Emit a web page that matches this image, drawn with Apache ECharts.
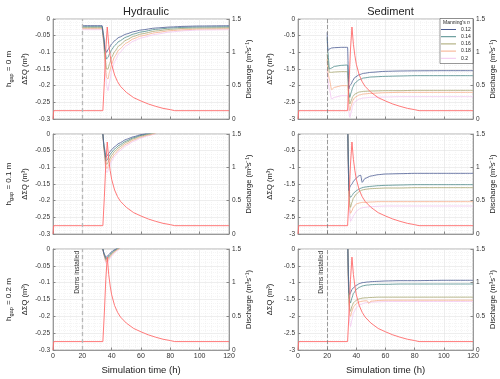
<!DOCTYPE html>
<html>
<head>
<meta charset="utf-8">
<script src="https://cdn.jsdelivr.net/npm/echarts@6/dist/echarts.min.js"></script>
<style>
  html, body { margin: 0; padding: 0; background: #fff; }
  #chart { width: 500px; height: 379px; }
</style>
</head>
<body>
<div id="chart"></div>
<script>
// Manning's n classes and their colours
const manningNames = ['0.12', '0.14', '0.16', '0.18', '0.2'];
const manningColors = ['#4a5a92', '#4d8a8a', '#a6a46e', '#f6ad8a', '#f3c7f0'];

// inflow hydrograph (right axis), same in all panels
const dischargeTime = [0, 0.5, 34, 35, 36, 37, 38, 39, 40, 42, 44, 46, 50, 55, 60, 65, 70, 75, 80, 83, 120];
const dischargeValue = [0, 0.125, 0.125, 0.55, 1.05, 1.38, 1.12, 0.95, 0.82, 0.66, 0.56, 0.49, 0.40, 0.32, 0.27, 0.225, 0.19, 0.16, 0.14, 0.125, 0.125];

// Hydraulic, h_gap = 0 m
const hyd0Time = [20, 33.5, 34.5, 35.5, 36.5, 37.5, 38.5, 40, 42, 45, 50, 55, 60, 70, 80, 90, 100, 120];
const hyd0Values = [
  [-0.020, -0.020, -0.05, -0.09, -0.10, -0.092, -0.085, -0.075, -0.065, -0.055, -0.045, -0.038, -0.033, -0.027, -0.024, -0.022, -0.021, -0.020],
  [-0.023, -0.023, -0.055, -0.10, -0.12, -0.115, -0.105, -0.092, -0.08, -0.067, -0.054, -0.045, -0.039, -0.031, -0.027, -0.025, -0.024, -0.023],
  [-0.026, -0.026, -0.06, -0.115, -0.15, -0.15, -0.135, -0.115, -0.098, -0.08, -0.063, -0.052, -0.045, -0.036, -0.031, -0.028, -0.027, -0.026],
  [-0.029, -0.029, -0.065, -0.13, -0.175, -0.18, -0.16, -0.135, -0.113, -0.092, -0.072, -0.059, -0.051, -0.041, -0.035, -0.032, -0.030, -0.029],
  [-0.032, -0.032, -0.07, -0.145, -0.20, -0.215, -0.19, -0.155, -0.128, -0.103, -0.08, -0.066, -0.057, -0.046, -0.039, -0.035, -0.033, -0.032]
];

// Hydraulic, h_gap = 0.1 m
const hyd1Time = [34, 35, 36, 37, 38, 40, 42, 45, 50, 55, 60, 65, 70];
const hyd1Values = [
  [0, -0.04, -0.07, -0.065, -0.058, -0.047, -0.038, -0.028, -0.016, -0.008, -0.002, 0.003, 0.008],
  [0, -0.045, -0.08, -0.078, -0.068, -0.055, -0.045, -0.034, -0.021, -0.011, -0.004, 0.001, 0.006],
  [0, -0.05, -0.09, -0.09, -0.08, -0.064, -0.052, -0.04, -0.025, -0.014, -0.006, -0.001, 0.004],
  [0, -0.055, -0.10, -0.103, -0.092, -0.073, -0.06, -0.046, -0.03, -0.018, -0.009, -0.003, 0.002],
  [0, -0.06, -0.11, -0.115, -0.103, -0.082, -0.067, -0.052, -0.035, -0.022, -0.012, -0.005, 0.001]
];

// Hydraulic, h_gap = 0.2 m
const hyd2Time = [34, 35, 36, 37, 38, 39, 40, 42, 44, 46];
const hyd2Values = [
  [0, -0.015, -0.025, -0.022, -0.017, -0.012, -0.008, -0.002, 0.003, 0.008],
  [0, -0.017, -0.029, -0.027, -0.021, -0.016, -0.011, -0.004, 0.002, 0.007],
  [0, -0.019, -0.033, -0.031, -0.025, -0.019, -0.014, -0.006, 0.0, 0.005],
  [0, -0.021, -0.037, -0.036, -0.029, -0.023, -0.017, -0.008, -0.002, 0.004],
  [0, -0.023, -0.042, -0.041, -0.034, -0.027, -0.021, -0.011, -0.004, 0.002]
];

// Sediment, h_gap = 0 m
const sed0Time = [20, 20.5, 21.5, 23, 25, 30, 34, 34.8, 35.5, 36.5, 37.5, 39, 42, 45, 50, 60, 70, 80, 100, 120];
const sed0Values = [
  [-0.4, -0.95, -0.9, -0.87, -0.86, -0.85, -0.85, -2.1, -2.0, -1.95, -1.85, -1.75, -1.67, -1.63, -1.6, -1.57, -1.56, -1.555, -1.55, -1.55],
  [-0.55, -1.0, -1.5, -1.47, -1.42, -1.39, -1.38, -2.2, -2.35, -2.2, -2.05, -1.92, -1.82, -1.77, -1.74, -1.72, -1.71, -1.70, -1.70, -1.70],
  [-1.05, -1.3, -1.6, -1.6, -1.59, -1.58, -1.58, -2.3, -2.55, -2.45, -2.33, -2.25, -2.19, -2.17, -2.16, -2.15, -2.15, -2.14, -2.14, -2.14],
  [-1.2, -1.6, -1.8, -2.12, -2.05, -2.0, -2.0, -2.55, -2.75, -2.6, -2.45, -2.35, -2.28, -2.25, -2.23, -2.21, -2.2, -2.2, -2.2, -2.2],
  [-1.5, -1.85, -2.1, -2.4, -2.35, -2.3, -2.3, -2.75, -2.95, -2.8, -2.6, -2.48, -2.4, -2.37, -2.35, -2.34, -2.33, -2.33, -2.33, -2.33]
];

// Sediment, h_gap = 0.1 m
const sed1Time = [34.2, 34.6, 35, 35.5, 36, 37, 38, 40, 42, 43, 44, 46, 50, 55, 60, 70, 80, 100, 120];
const sed1Values = [
  [0, -1.2, -1.7, -1.6, -1.55, -1.5, -1.42, -1.32, -1.25, -1.24, -1.45, -1.33, -1.26, -1.22, -1.2, -1.19, -1.18, -1.18, -1.18],
  [0, -0.9, -1.6, -1.85, -1.9, -1.85, -1.78, -1.7, -1.65, -1.63, -1.61, -1.59, -1.57, -1.55, -1.54, -1.53, -1.52, -1.52, -1.52],
  [0, -1.0, -1.8, -2.1, -2.2, -2.05, -1.92, -1.8, -1.73, -1.7, -1.68, -1.66, -1.64, -1.63, -1.62, -1.62, -1.61, -1.61, -1.61],
  [0, -1.1, -1.9, -2.25, -2.38, -2.3, -2.2, -2.1, -2.07, -2.06, -2.05, -2.05, -2.04, -2.03, -2.03, -2.03, -2.03, -2.03, -2.03],
  [0, -1.2, -2.0, -2.45, -2.62, -2.55, -2.45, -2.32, -2.25, -2.23, -2.21, -2.2, -2.18, -2.17, -2.16, -2.16, -2.16, -2.16, -2.16]
];

// Sediment, h_gap = 0.2 m
const sed2Time = [34.2, 34.6, 35, 35.5, 36, 37, 38, 40, 42, 44, 46, 47.5, 48.5, 50, 55, 60, 70, 80, 100, 120];
const sed2Values = [
  [0, -0.8, -1.3, -1.35, -1.3, -1.2, -1.15, -1.08, -1.03, -1.0, -0.99, -0.98, -0.98, -0.97, -0.96, -0.95, -0.94, -0.94, -0.93, -0.93],
  [0, -0.9, -1.4, -1.55, -1.6, -1.45, -1.32, -1.2, -1.14, -1.1, -1.08, -1.07, -1.07, -1.06, -1.05, -1.05, -1.04, -1.04, -1.04, -1.04],
  [0, -1.0, -1.6, -1.8, -1.85, -1.7, -1.6, -1.52, -1.48, -1.46, -1.45, -1.45, -1.44, -1.44, -1.43, -1.43, -1.43, -1.43, -1.43, -1.43],
  [0, -1.1, -1.7, -1.95, -2.0, -1.85, -1.72, -1.62, -1.57, -1.55, -1.54, -1.54, -1.62, -1.55, -1.53, -1.52, -1.52, -1.52, -1.52, -1.52],
  [0, -1.2, -1.9, -2.2, -2.3, -2.1, -1.9, -1.75, -1.67, -1.63, -1.6, -1.59, -1.59, -1.58, -1.57, -1.56, -1.56, -1.56, -1.56, -1.56]
];

const gapLabels = ['0', '0.1', '0.2'];
const columnTitles = ['Hydraulic', 'Sediment'];

const panels = [
  { col: 0, row: 0, time: hyd0Time, values: hyd0Values },
  { col: 0, row: 1, time: hyd1Time, values: hyd1Values },
  { col: 0, row: 2, time: hyd2Time, values: hyd2Values },
  { col: 1, row: 0, time: sed0Time, values: sed0Values },
  { col: 1, row: 1, time: sed1Time, values: sed1Values },
  { col: 1, row: 2, time: sed2Time, values: sed2Values }
];

const FONT = '"Liberation Sans", Arial, sans-serif';
const colLeft = [53, 298], colWidth = [176, 175];
const rowTop = [19, 134, 249], rowHeight = [100, 100, 101];
const yScale = [{ min: -0.3, interval: 0.05 }, { min: -3, interval: 0.5 }];

const grid = [], xAxis = [], yAxis = [], series = [];

panels.forEach((p, i) => {
  const bottom = p.row === 2;
  grid.push({
    left: colLeft[p.col], top: rowTop[p.row],
    width: colWidth[p.col], height: rowHeight[p.row],
    show: true, borderColor: '#a0a0a0', borderWidth: 0.8
  });
  xAxis.push({
    type: 'value', gridIndex: i, min: 0, max: 120, interval: 20,
    axisLine: { show: true, onZero: false, lineStyle: { color: '#888', width: 0.8 } },
    axisTick: { inside: true, length: 2.5, lineStyle: { color: '#888' } },
    minorTick: { show: false, splitNumber: 5 },
    axisLabel: { show: bottom, fontSize: 7, color: '#333', margin: 3, fontFamily: FONT },
    splitLine: { show: true, lineStyle: { color: '#e2e2e2', width: 0.6 } },
    minorSplitLine: { show: true, lineStyle: { color: '#ebebeb', width: 0.5, type: [1, 1] } },
    name: bottom ? 'Simulation time (h)' : '',
    nameLocation: 'middle', nameGap: 15,
    nameTextStyle: { fontSize: 9.5, color: '#222', fontFamily: FONT }
  });
  yAxis.push({
    type: 'value', gridIndex: i, position: 'left',
    min: yScale[p.col].min, max: 0, interval: yScale[p.col].interval,
    axisLine: { show: true, lineStyle: { color: '#888', width: 0.8 } },
    axisTick: { show: true, inside: true, length: 2.5, lineStyle: { color: '#888' } },
    minorTick: { show: false, splitNumber: 5 },
    axisLabel: { fontSize: 6.5, color: '#333', margin: 3, fontFamily: FONT },
    splitLine: { show: true, lineStyle: { color: '#e2e2e2', width: 0.6 } },
    minorSplitLine: { show: true, lineStyle: { color: '#ebebeb', width: 0.5, type: [1, 1] } },
    name: 'ΔΣQ (m³)', nameLocation: 'middle', nameRotate: 90, nameGap: 24,
    nameTextStyle: { fontSize: 7.5, color: '#222', fontFamily: FONT }
  });
  yAxis.push({
    type: 'value', gridIndex: i, position: 'right',
    min: 0, max: 1.5, interval: 0.5,
    axisLine: { show: true, lineStyle: { color: '#888', width: 0.8 } },
    axisTick: { show: true, inside: true, length: 2.5, lineStyle: { color: '#888' } },
    axisLabel: { fontSize: 6.5, color: '#333', margin: 3, fontFamily: FONT },
    splitLine: { show: false },
    name: 'Discharge (m³s⁻¹)', nameLocation: 'middle', nameRotate: 90, nameGap: 15,
    nameTextStyle: { fontSize: 7.5, color: '#222', fontFamily: FONT }
  });

  manningNames.forEach((n, k) => {
    series.push({
      type: 'line', name: n, xAxisIndex: i, yAxisIndex: 2 * i,
      data: p.time.map((t, j) => [t, p.values[k][j]]),
      symbol: 'none', smooth: 0.2, smoothMonotone: 'x', clip: true,
      lineStyle: { color: manningColors[k], width: 0.8 },
      itemStyle: { color: manningColors[k] },
      z: 3 + (4 - k) * 0.01
    });
  });

  series.push({
    type: 'line', name: 'Discharge', xAxisIndex: i, yAxisIndex: 2 * i + 1,
    data: dischargeTime.map((t, j) => [t, dischargeValue[j]]),
    symbol: 'none', clip: true,
    lineStyle: { color: '#ff6b6b', width: 0.9 },
    itemStyle: { color: '#ff6b6b' },
    z: 4,
    markLine: {
      silent: true, symbol: 'none', animation: false,
      lineStyle: p.col === 0
        ? { color: '#b8b8b8', type: [4, 3], width: 1.3 }
        : { color: '#777', type: [4, 2], width: 0.7 },
      label: {
        show: bottom, formatter: 'Dams installed', position: 'insideEndTop',
        fontSize: 6.5, color: '#333', fontFamily: FONT, distance: 2
      },
      data: [{ xAxis: 20 }]
    }
  });
});

const graphic = [];
gapLabels.forEach((g, r) => {
  graphic.push({
    type: 'text', x: 9, y: rowTop[r] + rowHeight[r] / 2, rotation: Math.PI / 2,
    style: {
      text: '{n|h}{s|gap}{n| = ' + g + ' m}',
      align: 'center', verticalAlign: 'middle',
      rich: {
        n: { fontSize: 8, lineHeight: 10, fill: '#222', fontFamily: FONT },
        s: { fontSize: 5.5, verticalAlign: 'bottom', fill: '#222', fontFamily: FONT }
      }
    }
  });
});
// legend box and title
graphic.push({
  type: 'rect', z: 40,
  shape: { x: 440, y: 18.5, width: 33, height: 45 },
  style: { fill: '#fff', stroke: '#333', lineWidth: 0.5 }
});
graphic.push({
  type: 'text', z: 41, x: 456.5, y: 23,
  style: {
    text: "{a|Manning's }{i|n}", align: 'center', verticalAlign: 'middle',
    rich: {
      a: { fontSize: 5, fill: '#222', fontFamily: FONT },
      i: { fontSize: 5, fill: '#222', fontStyle: 'italic', fontFamily: FONT }
    }
  }
});

const chart = echarts.init(document.getElementById('chart'), null, { renderer: 'canvas' });
chart.setOption({
  animation: false,
  backgroundColor: '#fff',
  title: columnTitles.map((t, c) => ({
    text: t, left: colLeft[c] + colWidth[c] / 2, top: 1, textAlign: 'center',
    textStyle: { fontSize: 11, fontWeight: 'normal', color: '#222', fontFamily: FONT }
  })),
  legend: {
    data: manningNames, orient: 'vertical', left: 441, top: 27,
    icon: 'rect', itemWidth: 15, itemHeight: 1, itemGap: 2.2, padding: 0, z: 42,
    textStyle: { fontSize: 5, color: '#222', fontFamily: FONT, padding: [0, 0, 0, 0] }
  },
  grid, xAxis, yAxis, series, graphic
});
</script>
</body>
</html>
